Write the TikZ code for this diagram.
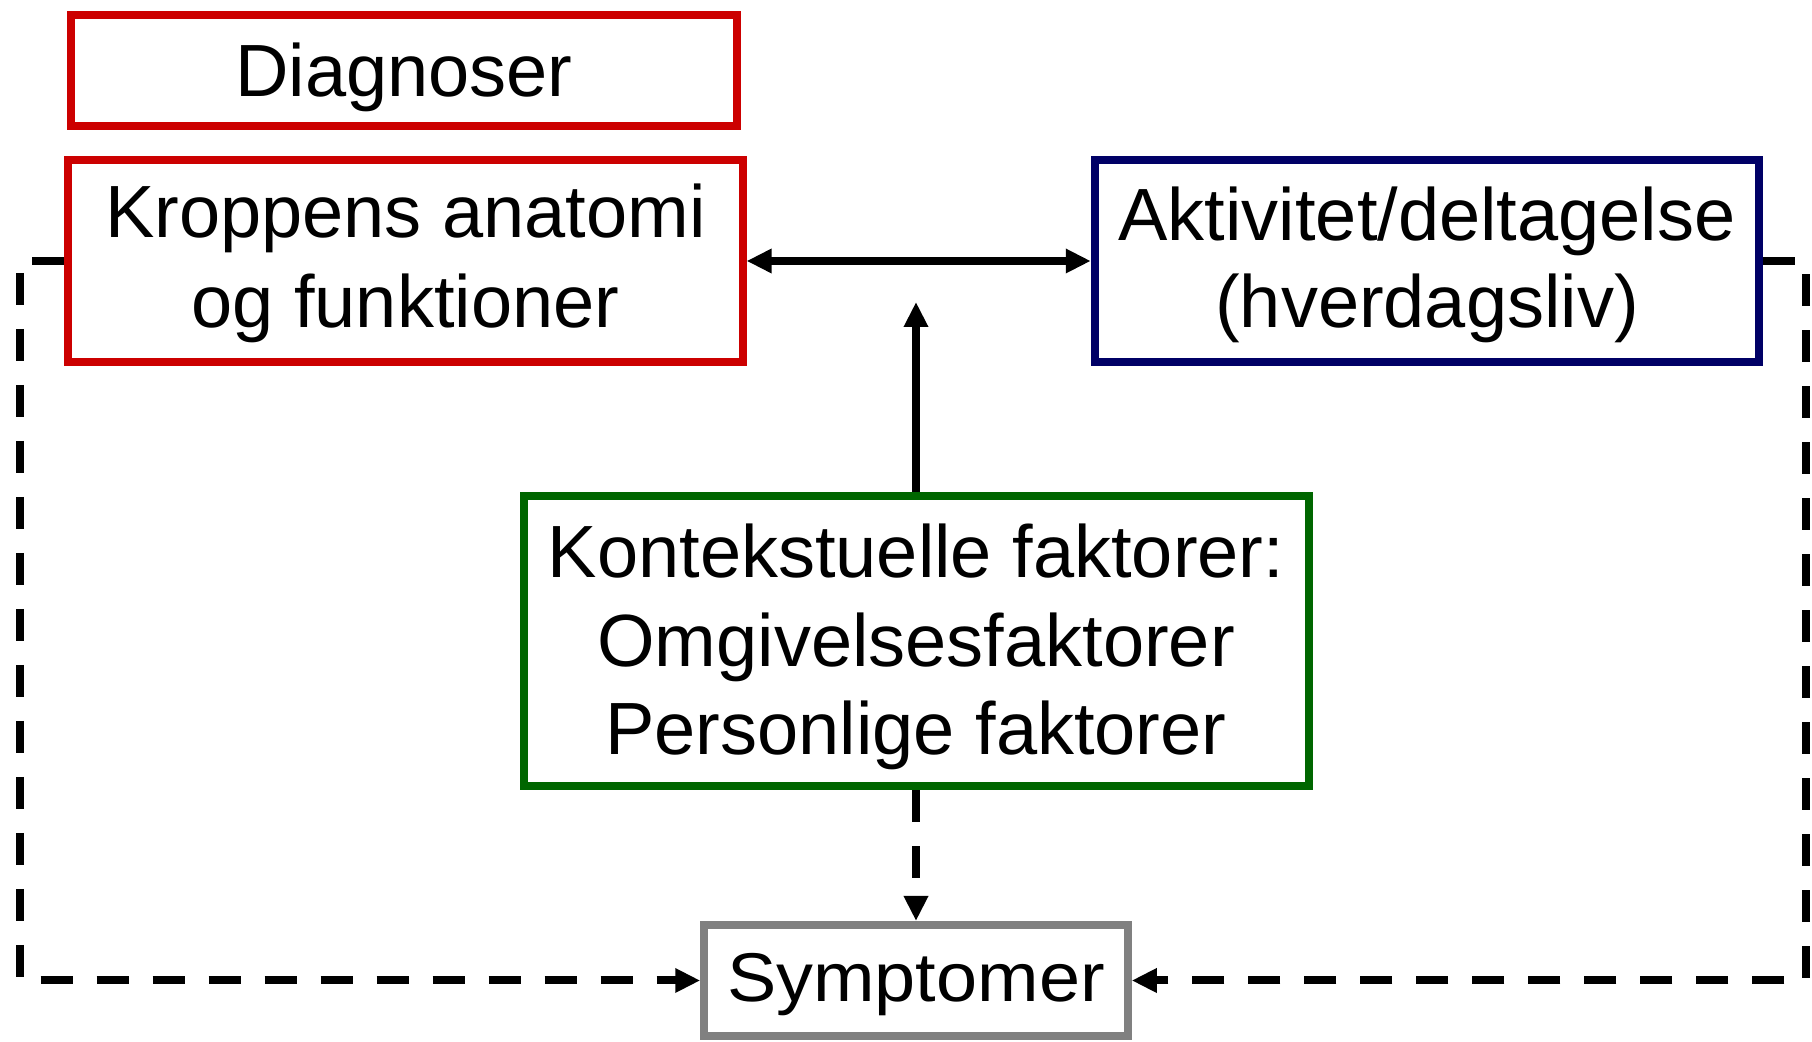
\documentclass[tikz,border=0pt]{standalone}
\usepackage{fontspec}
\setmainfont{Liberation Sans}
\newfontfamily\widesans[FakeStretch=1.07]{Liberation Sans}
\usetikzlibrary{arrows.meta}
\definecolor{boxred}{RGB}{204,0,0}
\definecolor{boxnavy}{RGB}{0,0,102}
\definecolor{boxgreen}{RGB}{0,102,0}
\definecolor{boxgray}{RGB}{128,128,128}
\newcommand{\boxstrut}[1]{\rule{0pt}{#1}}

\begin{document}
\begin{tikzpicture}[x=0.5pt,y=0.5pt,yscale=-1,xscale=1,
  box/.style={draw, line width=4pt, fill=white, inner sep=0pt, align=center,
    font=\fontsize{37pt}{45pt}\selectfont},
  link/.style={line width=4pt, -{Triangle[length=12.5pt,width=11.5pt]}},
  dashlink/.style={link, dash pattern=on 16pt off 12pt}]

\useasboundingbox (0,0) rectangle (1812,1042);

% boxes
\node (diag) [box, draw=boxred, minimum width=333pt, minimum height=55.5pt] at (404,71) {\boxstrut{32.8pt}Diagnoser};
\node (krop) [box, draw=boxred, minimum width=337.3pt, minimum height=100.75pt] at (405.3,261) {\boxstrut{29.4pt}Kroppens anatomi\\og funktioner};
\node (akti) [box, draw=boxnavy, minimum width=332.25pt, minimum height=101pt, font=\fontsize{37pt}{43.5pt}\selectfont] at (1427,261) {\boxstrut{30.3pt}Aktivitet/deltagelse\\(hverdagsliv)};
\node (kont) [box, draw=boxgreen, minimum width=392.5pt, minimum height=145.25pt, font=\fontsize{37pt}{44.25pt}\selectfont] at (916,641.25) {\boxstrut{32.8pt}Kontekstuelle faktorer:\\Omgivelsesfaktorer\\Personlige faktorer};
\node (symp) [box, draw=boxgray, minimum width=211.75pt, minimum height=55.5pt, font=\widesans\fontsize{34.5pt}{40pt}\selectfont] at (916,980.5) {\boxstrut{28.2pt}Symptomer};

\coordinate (mid) at (916,302);
\coordinate (lcorner) at (20,261);
\coordinate (rcorner) at (1806,261);

% connectors
\draw [link, {Triangle[length=12.5pt,width=11.5pt]}-{Triangle[length=12.5pt,width=11.5pt]}] (krop.east) -- (akti.west);
\draw [link] (kont.north) -- (mid);
\draw [dashlink] (kont.south) -- (symp.north);
\draw [dashlink] (krop.west) -- (lcorner) |- (symp.west);
\draw [dashlink] (akti.east) -- (rcorner) |- (symp.east);

\end{tikzpicture}
\end{document}
